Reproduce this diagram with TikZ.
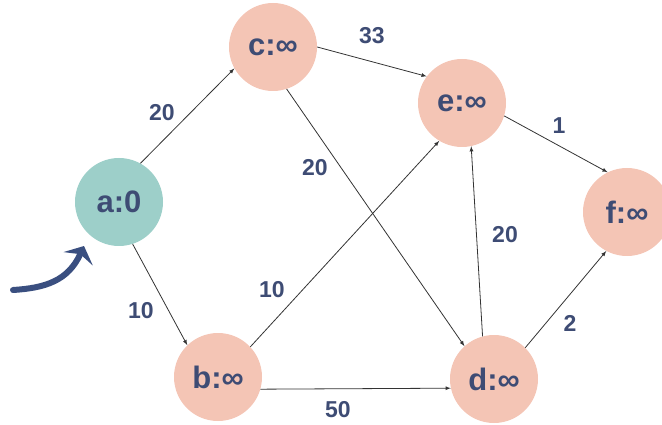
\documentclass[tikz,border=0pt]{standalone}
\usepackage{fontspec}
\setmainfont{Liberation Sans}
\usepackage{xcolor}
\usetikzlibrary{arrows}
\usetikzlibrary{arrows.meta}
\definecolor{done}{HTML}{9DCFC9}
\definecolor{open}{HTML}{F4C5B5}
\definecolor{ink}{HTML}{3E4C74}
\definecolor{brushblue}{HTML}{3A4F80}

\begin{document}
\begin{tikzpicture}[x=1pt,y=-1pt]
      \tikzstyle{vertex}=[circle,minimum size=88pt,inner sep=0pt,text=ink,font=\fontsize{31}{31}\selectfont\bfseries]
      \tikzstyle{weight}=[inner sep=0pt,text=ink,font=\fontsize{23}{23}\selectfont\bfseries]
      \tikzstyle{edge}=[-latex,line width=0.8pt,draw=black!80]
      \useasboundingbox (0,0) rectangle (662,425);

      \node[vertex,fill=done] (a) at (119,202) {a:0};
      \node[vertex,fill=open] (c) at (273,47)  {c:∞};
      \node[vertex,fill=open] (e) at (462,103) {e:∞};
      \node[vertex,fill=open] (f) at (627,212) {f:∞};
      \node[vertex,fill=open] (b) at (218,377) {b:∞};
      \node[vertex,fill=open] (d) at (494,379) {d:∞};

      \draw[edge] (a.61)  -- (c.209);
      \draw[edge] (a.-72) -- (b.134);
      \draw[edge] (c.0)   -- (e.143);
      \draw[edge] (c.-72) -- (d.132);
      \draw[edge] (b.43)  -- (e.239);
      \draw[edge] (b.-16) -- (d.192);
      \draw[edge] (d.105) -- (e.-78);
      \draw[edge] (d.45)  -- (f.242);
      \draw[edge] (e.-17) -- (f.116);

      % weights
      \node[weight] (w_ac) at (162,113) {20};
      \node[weight] (w_ab) at (141,311) {10};
      \node[weight] (w_ce) at (372,36)  {33};
      \node[weight] (w_cd) at (315,168) {20};
      \node[weight] (w_be) at (272,290) {10};
      \node[weight] (w_bd) at (338,410) {50};
      \node[weight] (w_de) at (505,235) {20};
      \node[weight] (w_df) at (570,323) {2};
      \node[weight] (w_ef) at (559,126) {1};

      % start marker
      \coordinate (s0) at (13,290);
      \coordinate (s1) at (84,246);
      \draw[line width=6pt,line cap=round,draw=brushblue,-{Stealth[length=14pt,width=32pt,inset=5pt]}]
        (s0) .. controls (45,288) and (68,281) .. (s1);
\end{tikzpicture}
\end{document}
